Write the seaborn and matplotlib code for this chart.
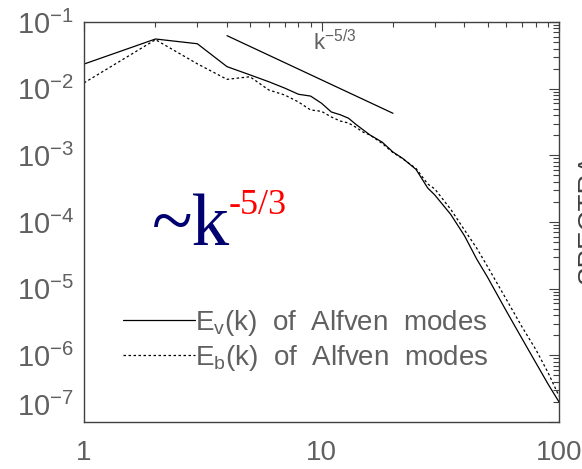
import numpy as np
import pandas as pd
import matplotlib
matplotlib.use("Agg")
import matplotlib.pyplot as plt
import seaborn as sns
from matplotlib.ticker import LogLocator, NullFormatter

# ---------------- data ----------------
k_vals = [1, 2, 3, 4, 5, 6, 7, 8, 9, 10, 11, 12, 13, 14, 15, 16, 18, 20, 22,
          25, 28, 30, 35, 40, 45, 50, 60, 70, 80, 90, 100]
ev_vals = [0.0234, 0.0556, 0.0472, 0.0214, 0.0161, 0.0127, 0.0102, 0.00824,
           0.00774, 0.00605, 0.00447, 0.00406, 0.00360, 0.00289, 0.00240,
           0.00202, 0.00158, 0.00112, 8.97e-4, 6.15e-4, 3.24e-4, 2.54e-4,
           1.30e-4, 6.22e-5, 2.79e-5, 1.49e-5, 4.62e-6, 1.76e-6, 7.67e-7,
           3.69e-7, 2.00e-7]
eb_vals = [0.0122, 0.0543, 0.0236, 0.0138, 0.0151, 0.00955, 0.00804, 0.00631,
           0.00479, 0.00457, 0.00376, 0.00327, 0.00305, 0.00262, 0.00222,
           0.00202, 0.00151, 0.00110, 8.87e-4, 6.35e-4, 3.72e-4, 3.13e-4,
           1.55e-4, 7.59e-5, 4.07e-5, 2.15e-5, 6.92e-6, 2.64e-6, 1.21e-6,
           5.47e-7, 2.45e-7]
ref_k = [4, 20]
ref_e = [0.0624, 0.00427]

series_names = [r"E$_\mathregular{v}$(k)  of  Alfven  modes",
                r"E$_\mathregular{b}$(k)  of  Alfven  modes"]
x_ticks = [1, 10, 100]
x_tick_labels = ["1", "10", "100"]
y_ticks = [1e-7, 1e-6, 1e-5, 1e-4, 1e-3, 1e-2, 1e-1]
y_tick_labels = [r"$\mathregular{10^{-7}}$", r"$\mathregular{10^{-6}}$",
                 r"$\mathregular{10^{-5}}$", r"$\mathregular{10^{-4}}$",
                 r"$\mathregular{10^{-3}}$", r"$\mathregular{10^{-2}}$",
                 r"$\mathregular{10^{-1}}$"]

# ---------------- style ----------------
sns.set_style("white")
plt.rcParams["font.family"] = ["Liberation Sans Narrow", "Liberation Sans", "DejaVu Sans"]
plt.rcParams["mathtext.fontset"] = "custom"
plt.rcParams["mathtext.rm"] = "Liberation Sans Narrow"
plt.rcParams["mathtext.it"] = "Liberation Sans Narrow"
TXT = "#606060"

df = pd.DataFrame({
    "k": k_vals + k_vals,
    "E": ev_vals + eb_vals,
    "series": [series_names[0]] * len(k_vals) + [series_names[1]] * len(k_vals),
})
df_ref = pd.DataFrame({"k": ref_k, "E": ref_e})

W, H = 582, 469
fig = plt.figure(figsize=(W / 100, H / 100), dpi=100)
ax = fig.add_axes([84 / W, 1 - 422 / H, (559 - 84) / W, 400 / H])

sns.lineplot(data=df, x="k", y="E", style="series",
             dashes={series_names[0]: "", series_names[1]: (2, 2)},
             color="black", linewidth=0.9, ax=ax, sort=False)
sns.lineplot(data=df_ref, x="k", y="E", color="black", linewidth=0.9,
             ax=ax, legend=False)

ax.set_xscale("log")
ax.set_yscale("log")
ax.set_xlim(1, 100)
ax.set_ylim(1e-7, 1e-1)
ax.set_xlabel("")
ax.set_ylabel("")

ax.set_xticks(x_ticks)
ax.set_xticklabels(x_tick_labels)
ax.set_yticks(y_ticks)
ax.set_yticklabels(y_tick_labels)
ax.xaxis.set_minor_locator(LogLocator(base=10, subs=np.arange(2, 10), numticks=20))
ax.yaxis.set_minor_locator(LogLocator(base=10, subs=np.arange(2, 10), numticks=20))
ax.xaxis.set_minor_formatter(NullFormatter())
ax.yaxis.set_minor_formatter(NullFormatter())

for s in ax.spines.values():
    s.set_visible(True)
    s.set_color("#404040")
    s.set_linewidth(1.0)

ax.tick_params(axis="both", which="both", direction="in", top=True, right=True,
               color="#404040", width=0.8, labelcolor=TXT)
ax.tick_params(axis="x", which="major", length=6.5, pad=13, labelsize=20)
ax.tick_params(axis="x", which="minor", length=3.5)
ax.tick_params(axis="y", which="major", length=7.5, pad=7, labelsize=21)
ax.tick_params(axis="y", which="minor", length=4.5)
ylabels = ax.get_yticklabels()
ylabels[0].set_va("bottom")

# legend
h, l = ax.get_legend_handles_labels()
leg = ax.legend(h, l, loc="center left", bbox_to_anchor=(0.082, 0.205),
                frameon=False, fontsize=20, handlelength=2.6,
                handletextpad=0.0, labelspacing=0.18, borderpad=0,
                borderaxespad=0)
for t in leg.get_texts():
    t.set_color(TXT)
for ln in leg.get_lines():
    ln.set_linewidth(0.9)

# annotations
fig.text(313 / W, 1 - 50 / H, r"$\mathregular{k^{-5/3}}$", fontsize=16,
         color=TXT, ha="left", va="baseline")
fig.text(152 / W, 1 - 245 / H, "~k", fontsize=54, color="#000070",
         family="Liberation Serif", ha="left", va="baseline")
fig.text(229 / W, 1 - 214 / H, "-5/3", fontsize=26, color="#ff0000",
         family="Liberation Serif", ha="left", va="baseline")
fig.text(577 / W, 1 - 218 / H, "SPECTRA", fontsize=20, color="#404040",
         family="Liberation Sans", rotation=90, ha="left", va="center")

fig.savefig("out.png", dpi=100, facecolor="white")
